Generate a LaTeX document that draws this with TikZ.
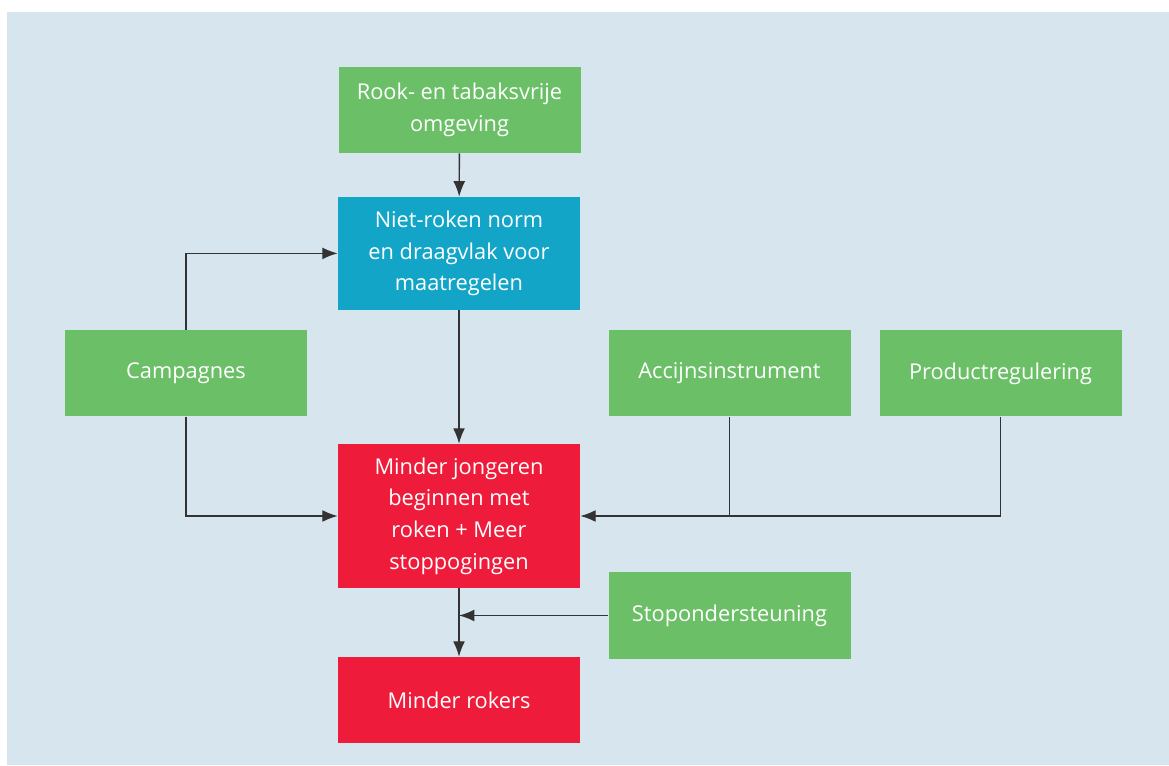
\documentclass[tikz,border=0pt]{standalone}
\usepackage{fontspec}
\setmainfont{Open Sans}
\usepackage{xcolor}
\usetikzlibrary{arrows.meta,positioning}

\definecolor{bgblue}{HTML}{D7E5EE}
\definecolor{boxgreen}{HTML}{6BBF67}
\definecolor{boxblue}{HTML}{12A5C8}
\definecolor{boxred}{HTML}{EE1B3A}
\definecolor{linegray}{HTML}{333333}

\begin{document}
\begin{tikzpicture}[measure/.style={rectangle, text=white, align=center, minimum width=6.05cm, minimum height=2.15cm, inner sep=0pt, font=\fontsize{15.5}{22.5}\selectfont},
		effect/.style={measure, fill=boxred},
		link/.style={draw=linegray, line width=1pt, -{Latex[length=11pt,width=8.5pt]}}]
			\useasboundingbox (0,0) rectangle (29.225,19.125);
			\fill [bgblue] (0.175,0) rectangle (29.225,18.825);
			
			% top of the chain
			\node [measure, fill=boxgreen] (rookvrij) at (11.4875,16.375) {Rook- en tabaksvrije\\omgeving};
			\node [measure, fill=boxblue, minimum height=2.825cm] (norm) at (11.475,12.79) {Niet-roken norm\\en draagvlak voor\\maatregelen};
			
			% measures
			\node [measure, fill=boxgreen] (campagnes) at (4.65,9.7875) {Campagnes};
			\node [measure, fill=boxgreen] (accijns) at (18.2375,9.7875) {Accijnsinstrument};
			\node [measure, fill=boxgreen] (product) at (25.0125,9.7875) {Productregulering};
			\node [measure, fill=boxgreen] (stop) at (18.2375,3.7375) {Stopondersteuning};
			
			% effects
			\node [effect, minimum height=3.6cm] (jongeren) at (11.475,6.225) {Minder jongeren\\beginnen met\\roken + Meer\\stoppogingen};
			\node [effect] (rokers) at (11.475,1.625) {Minder rokers};
			
			\coordinate (joint) at (jongeren.south |- stop.west);
			
			\draw [link] (rookvrij) -- (norm);
			\draw [link] (norm) -- (jongeren);
			\draw [link] (campagnes.north) |- (norm.west);
			\draw [link] (campagnes.south) |- (jongeren.west);
			\draw [link] (product.south) |- (jongeren.east);
			\draw [draw=linegray, line width=1pt] (accijns.south) -- (accijns.south |- jongeren.east);
			\draw [link] (jongeren) -- (rokers);
			\draw [link] (stop.west) -- (joint);
		\end{tikzpicture}
\end{document}
